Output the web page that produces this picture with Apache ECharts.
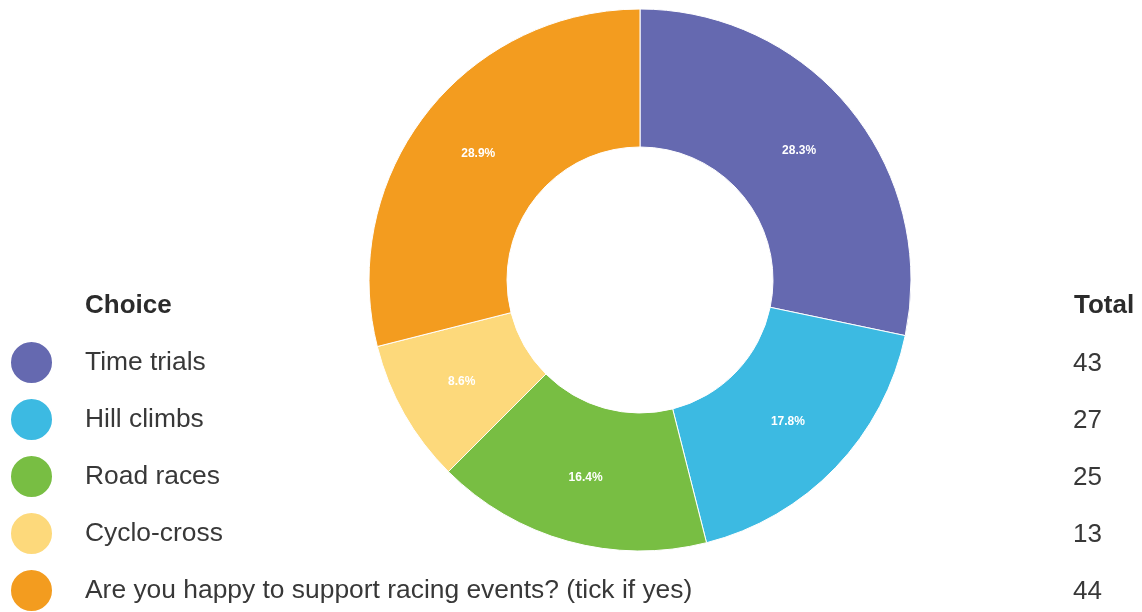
<!DOCTYPE html>
<html>
<head>
<meta charset="utf-8">
<script src="https://cdn.jsdelivr.net/npm/echarts@6/dist/echarts.min.js"></script>
<style>
html,body{margin:0;padding:0;background:#fff;}
#chart{width:1142px;height:612px;}
</style>
</head>
<body>
<div id="chart"></div>
<script>
const categories = ['Time trials', 'Hill climbs', 'Road races', 'Cyclo-cross', 'Are you happy to support racing events? (tick if yes)'];
const totals = [43, 27, 25, 13, 44];
const colors = ['#6569b0', '#3cbae2', '#78be43', '#fdd97b', '#f39c1f'];
const headerChoice = 'Choice';
const headerTotal = 'Total';

const FONT = '"Liberation Sans", Arial, sans-serif';
const sum = totals.reduce((a, b) => a + b, 0);
const legendTop = 335;
const rowH = 57;

const chart = echarts.init(document.getElementById('chart'), null, {renderer: 'canvas'});

const totalTexts = totals.map((v, i) => ({
  type: 'text',
  left: 1073,
  top: 362 + i * rowH - 11,
  style: { text: String(v), fontFamily: FONT, fontSize: 26, fill: '#383838' }
}));

chart.setOption({
  backgroundColor: '#ffffff',
  animation: false,
  color: colors,
  legend: {
    orient: 'vertical',
    left: 4,
    top: legendTop,
    height: 290,
    icon: 'circle',
    itemWidth: 43,
    itemHeight: 43,
    itemGap: 12,
    selectedMode: false,
    data: categories,
    textStyle: {
      fontFamily: FONT,
      fontSize: 26.4,
      color: '#383838',
      padding: [2, 0, 0, 27]
    }
  },
  graphic: [
    {
      type: 'text', left: 85, top: 304 - 11,
      style: { text: headerChoice, fontFamily: FONT, fontWeight: 'bold', fontSize: 26, fill: '#2b2b2b' }
    },
    {
      type: 'text', left: 1074, top: 304 - 11,
      style: { text: headerTotal, fontFamily: FONT, fontWeight: 'bold', fontSize: 26, fill: '#2b2b2b' }
    }
  ].concat(totalTexts),
  series: [{
    type: 'pie',
    center: [640, 280],
    radius: [133, 271],
    startAngle: 90,
    clockwise: true,
    avoidLabelOverlap: false,
    itemStyle: { borderColor: '#ffffff', borderWidth: 1 },
    label: {
      show: true,
      position: 'inside',
      formatter: p => (p.value / sum * 100).toFixed(1) + '%',
      color: '#ffffff',
      fontFamily: FONT,
      fontWeight: 'bold',
      fontSize: 12
    },
    labelLine: { show: false },
    emphasis: { disabled: true },
    data: categories.map((c, i) => ({ name: c, value: totals[i] }))
  }]
});
</script>
</body>
</html>
